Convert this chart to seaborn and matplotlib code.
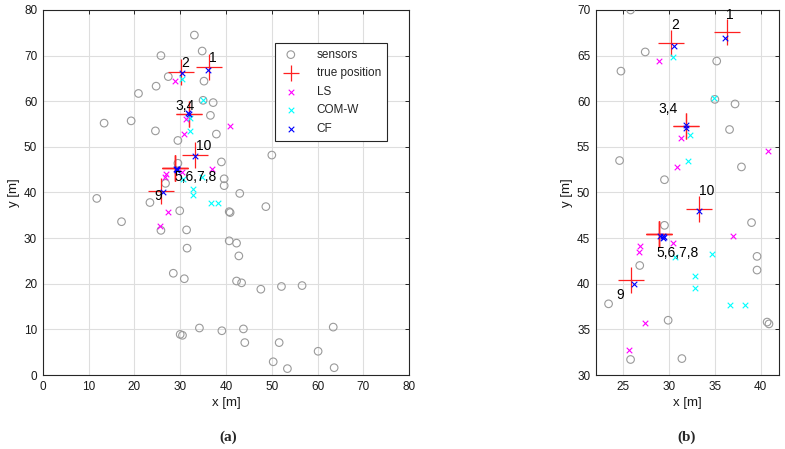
#Recreating sensor localization scatter (full area and zoomed view).
import pandas as pd
import matplotlib.pyplot as plt
import seaborn as sns

#Sensor positions [m].
sensor_x = [33.1, 34.8, 25.8, 27.4, 35.2, 24.75, 20.9, 35.0, 37.2, 36.6, 13.4, 19.3, 24.6, 29.5,
            37.9, 29.5, 26.8, 11.8, 23.4, 17.2, 29.9, 25.8, 31.4, 31.5, 28.5, 30.9, 30.0, 30.5,
            34.2, 39.1, 39.6, 39.6, 39.0, 40.7, 40.9, 40.7, 42.3, 42.8, 43.0, 42.3, 43.4, 48.7,
            47.6, 52.1, 56.6, 43.8, 63.4, 44.1, 51.6, 60.1, 50.3, 53.4, 63.6, 50.0]
sensor_y = [74.5, 71.0, 70.0, 65.4, 64.4, 63.3, 61.7, 60.2, 59.7, 56.9, 55.2, 55.7, 53.5, 51.4,
            52.8, 46.4, 42.0, 38.7, 37.8, 33.6, 36.0, 31.7, 31.8, 27.8, 22.3, 21.1, 8.9, 8.7,
            10.3, 9.7, 41.5, 43.0, 46.7, 35.8, 35.6, 29.4, 28.9, 26.1, 39.8, 20.6, 20.2, 36.9,
            18.8, 19.4, 19.6, 10.1, 10.5, 7.1, 7.1, 5.2, 2.9, 1.4, 1.6, 48.2]

#True source positions (points 1..10).
true_x = [36.3, 30.26, 31.9, 31.9, 28.9, 28.9, 28.9, 28.9, 25.8, 33.3]
true_y = [67.55, 66.4, 57.3, 57.3, 45.4, 45.4, 45.4, 45.4, 40.4, 48.15]

#Estimates.
ls_x = [40.8, 28.9, 31.35, 30.9, 26.8, 26.75, 30.4, 37.0, 27.4, 25.6]
ls_y = [54.5, 64.45, 56.0, 52.8, 44.1, 43.5, 44.45, 45.2, 35.75, 32.7]
comw_x = [30.4, 34.95, 32.25, 32.1, 30.7, 34.7, 32.8, 32.8, 36.7, 38.3]
comw_y = [64.9, 60.35, 56.3, 53.4, 42.95, 43.3, 40.8, 39.55, 37.65, 37.7]
cf_x = [36.1, 30.5, 31.8, 31.85, 29.0, 29.35, 29.4, 29.3, 26.2, 33.3]
cf_y = [66.9, 66.1, 57.4, 57.1, 45.25, 45.03, 45.1, 45.2, 40.0, 47.95]

#Point group labels and where they sit (index into true positions).
group_labels = ['1', '2', '3,4', '5,6,7,8', '9', '10']
group_index = [0, 1, 2, 4, 8, 9]

sensors = pd.DataFrame({'x': sensor_x, 'y': sensor_y})
truth = pd.DataFrame({'x': true_x, 'y': true_y})
ls = pd.DataFrame({'x': ls_x, 'y': ls_y})
comw = pd.DataFrame({'x': comw_x, 'y': comw_y})
cf = pd.DataFrame({'x': cf_x, 'y': cf_y})

sns.set_style('white')
plt.rcParams['font.family'] = ['Liberation Sans', 'DejaVu Sans']
edge = '#262626'

fig = plt.figure(figsize=(7.85, 4.49), dpi=100)
ax_a = fig.add_axes([0.0544, 0.1648, 0.467, 0.813])
ax_b = fig.add_axes([0.7589, 0.1648, 0.2335, 0.813])


def draw(ax, legend):
    sns.scatterplot(data=sensors, x='x', y='y', ax=ax, marker='o', s=30, facecolors='none',
                    edgecolors='#9a9a9a', linewidth=0.8, label='sensors' if legend else None, zorder=3)
    sns.scatterplot(data=truth, x='x', y='y', ax=ax, marker='+', s=370, color='#ff2020',
                    linewidth=0.9, label='true position' if legend else None, zorder=4)
    sns.scatterplot(data=ls, x='x', y='y', ax=ax, marker='x', s=16, color='#ff00ff',
                    linewidth=0.8, label='LS' if legend else None, zorder=5)
    sns.scatterplot(data=comw, x='x', y='y', ax=ax, marker='x', s=16, color='#00ffff',
                    linewidth=0.8, label='COM-W' if legend else None, zorder=5)
    sns.scatterplot(data=cf, x='x', y='y', ax=ax, marker='x', s=16, color='#0000ff',
                    linewidth=0.8, label='CF' if legend else None, zorder=6)
    ax.grid(True, color='#dedede', linewidth=0.8, zorder=0)
    ax.set_axisbelow(True)
    for sp in ax.spines.values():
        sp.set_color(edge)
        sp.set_linewidth(0.8)
    ax.tick_params(direction='in', length=3, width=0.7, colors=edge, labelsize=8.5,
                   top=True, right=True, labelcolor='#1a1a1a', pad=4)
    ax.set_xlabel('x [m]', fontsize=9.5, color='#1a1a1a', labelpad=3)
    ax.set_ylabel('y [m]', fontsize=9.5, color='#1a1a1a', labelpad=3)


draw(ax_a, True)
ax_a.set_xlim(0, 80)
ax_a.set_ylim(0, 80)
ax_a.set_xticks(range(0, 81, 10))
ax_a.set_yticks(range(0, 81, 10))
leg = ax_a.legend(loc='upper right', bbox_to_anchor=(0.939, 0.91), borderaxespad=0,
                  fancybox=False, framealpha=1, edgecolor=edge, fontsize=8.5,
                  handletextpad=1.4, labelspacing=0.55, borderpad=0.5, handlelength=1.6)
leg.get_frame().set_linewidth(0.8)
leg.legend_handles[1].set_sizes([120])

draw(ax_b, False)
ax_b.set_xlim(22, 42)
ax_b.set_ylim(30, 70)
ax_b.set_xticks([25, 30, 35, 40])
ax_b.set_yticks(range(30, 71, 5))

#Label offsets in pixels, per panel.
offs_a = [(4, 9), (4, 9), (-4, 8), (20, -9), (-3, -5), (8, 9)]
offs_b = [(3, 17), (4, 18), (-18, 17), (19, -19), (-10, -15), (7, 18)]
for ax, offs in ((ax_a, offs_a), (ax_b, offs_b)):
    for lab, i, o in zip(group_labels, group_index, offs):
        ax.annotate(lab, (true_x[i], true_y[i]), xytext=o, textcoords='offset pixels',
                    ha='center', va='center', fontsize=10, color='black', zorder=7)

fig.text(228 / 785, 1 - 437 / 449, '(a)', ha='center', va='center', fontsize=11,
         family='Liberation Serif', fontweight='bold')
fig.text(687 / 785, 1 - 437 / 449, '(b)', ha='center', va='center', fontsize=11,
         family='Liberation Serif', fontweight='bold')

plt.savefig('out.png', dpi=100)
